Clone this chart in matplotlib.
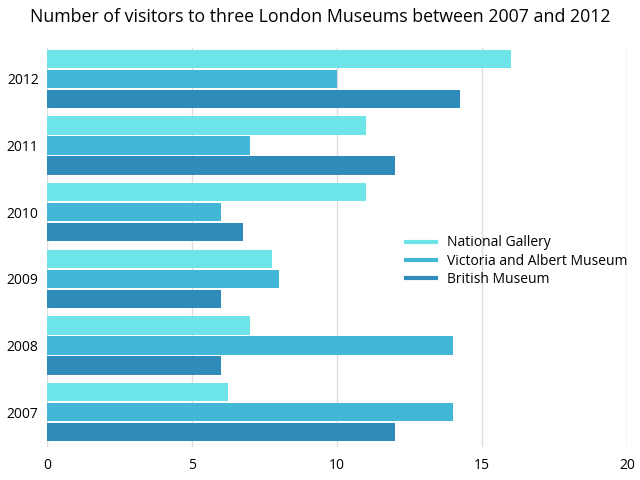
import matplotlib
matplotlib.use("Agg")
import matplotlib.pyplot as plt
import numpy as np
from matplotlib.lines import Line2D

years = ["2007", "2008", "2009", "2010", "2011", "2012"]
national_gallery = [6.25, 7, 7.75, 11, 11, 16]
victoria_albert = [14, 14, 8, 6, 7, 10]
british_museum = [12, 6, 6, 6.75, 12, 14.25]
series_names = ["National Gallery", "Victoria and Albert Museum", "British Museum"]
colors = ["#6ce4e8", "#42b7d6", "#2e8bba"]
x_ticks = [0, 5, 10, 15, 20]

plt.rcParams['font.family'] = ['Open Sans', 'DejaVu Sans']

fig = plt.figure(figsize=(6.4, 4.8), dpi=100)
ax = fig.add_axes([47/640, 33/480, 580/640, 399/480])

y = np.arange(len(years))
step = 0.30
h = 0.277
for i, (vals, name, c) in enumerate(zip([national_gallery, victoria_albert, british_museum], series_names, colors)):
    ax.barh(y + (1 - i) * step, vals, height=h, color=c, label=name, zorder=3)

ax.set_xlim(0, 20)
ax.set_ylim(-0.525, 5.465)
ax.set_xticks(x_ticks)
ax.set_xticklabels([str(t) for t in x_ticks], fontsize=10)
ax.set_yticks(y)
ax.set_yticklabels(years, fontsize=10)
ax.tick_params(axis='x', length=0, pad=8)
ax.tick_params(axis='y', length=0, pad=6)
for s in ax.spines.values():
    s.set_visible(False)
ax.grid(axis='x', color='#dddddd', linewidth=1, zorder=0)

handles = [Line2D([], [], color=c, linewidth=3) for c in colors]
fig.legend(handles, series_names, loc='upper left', bbox_to_anchor=(393/640, 1 - 223/480),
           frameon=False, fontsize=10, handlelength=2.2, handletextpad=0.8, labelspacing=0.22)

fig.text(0.5, 1 - 17/480, "Number of visitors to three London Museums between 2007 and 2012",
         ha='center', va='center', fontsize=12.8)

fig.savefig("out.png", dpi=100)
